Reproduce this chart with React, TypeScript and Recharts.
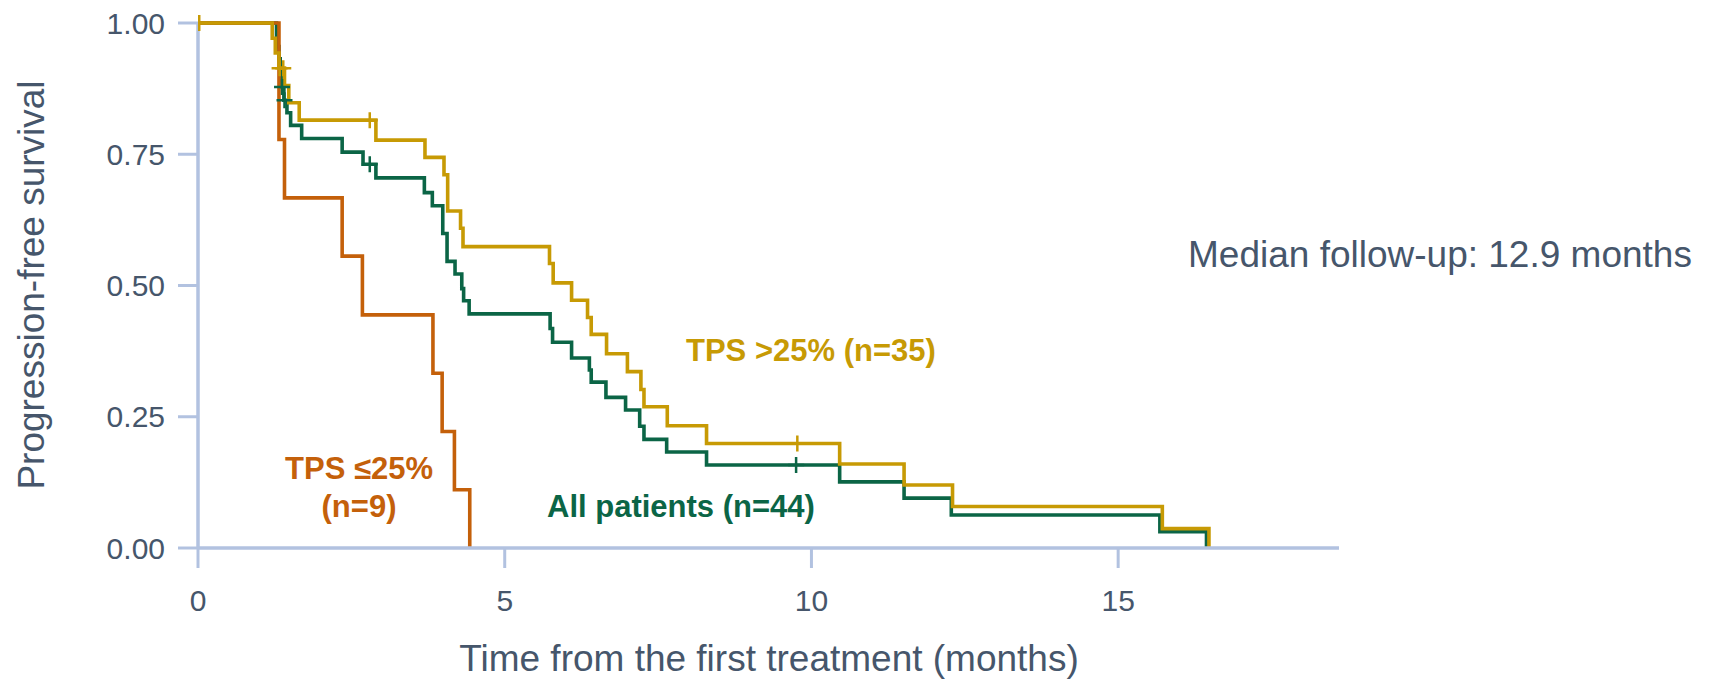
import { ComposedChart, Line, Scatter, XAxis, YAxis } from 'recharts';

// Kaplan-Meier step points: t = months, s = progression-free survival
const allPatients = [
  { t: 0, s: 1 }, { t: 1.28, s: 0.977 }, { t: 1.3, s: 0.955 }, { t: 1.32, s: 0.932 },
  { t: 1.34, s: 0.909 }, { t: 1.36, s: 0.878 }, { t: 1.4, s: 0.853 }, { t: 1.45, s: 0.829 },
  { t: 1.51, s: 0.805 }, { t: 1.69, s: 0.78 }, { t: 2.35, s: 0.754 }, { t: 2.69, s: 0.731 },
  { t: 2.9, s: 0.705 }, { t: 3.69, s: 0.677 }, { t: 3.82, s: 0.652 }, { t: 3.99, s: 0.599 },
  { t: 4.06, s: 0.546 }, { t: 4.19, s: 0.522 }, { t: 4.3, s: 0.494 }, { t: 4.33, s: 0.471 },
  { t: 4.42, s: 0.446 }, { t: 5.74, s: 0.418 }, { t: 5.78, s: 0.392 }, { t: 6.09, s: 0.362 },
  { t: 6.38, s: 0.339 }, { t: 6.41, s: 0.316 }, { t: 6.65, s: 0.287 }, { t: 6.97, s: 0.263 },
  { t: 7.2, s: 0.232 }, { t: 7.27, s: 0.207 }, { t: 7.64, s: 0.183 }, { t: 8.29, s: 0.158 },
  { t: 10.46, s: 0.126 }, { t: 11.51, s: 0.095 }, { t: 12.28, s: 0.063 }, { t: 15.68, s: 0.031 },
  { t: 16.44, s: 0 },
];

const tpsHigh = [
  { t: 0, s: 1 }, { t: 1.21, s: 0.971 }, { t: 1.26, s: 0.943 }, { t: 1.32, s: 0.914 },
  { t: 1.41, s: 0.881 }, { t: 1.48, s: 0.848 }, { t: 1.65, s: 0.815 }, { t: 2.9, s: 0.777 },
  { t: 3.7, s: 0.744 }, { t: 4.01, s: 0.711 }, { t: 4.07, s: 0.642 }, { t: 4.28, s: 0.609 },
  { t: 4.32, s: 0.574 }, { t: 5.73, s: 0.542 }, { t: 5.79, s: 0.505 }, { t: 6.09, s: 0.472 },
  { t: 6.35, s: 0.439 }, { t: 6.41, s: 0.407 }, { t: 6.66, s: 0.37 }, { t: 7.0, s: 0.336 },
  { t: 7.22, s: 0.302 }, { t: 7.27, s: 0.269 }, { t: 7.65, s: 0.233 }, { t: 8.29, s: 0.199 },
  { t: 10.46, s: 0.16 }, { t: 11.51, s: 0.12 }, { t: 12.3, s: 0.079 }, { t: 15.72, s: 0.037 },
  { t: 16.48, s: 0 },
];

const tpsLow = [
  { t: 0, s: 1 }, { t: 1.32, s: 0.778 }, { t: 1.41, s: 0.667 }, { t: 2.35, s: 0.556 },
  { t: 2.68, s: 0.444 }, { t: 3.83, s: 0.333 }, { t: 3.98, s: 0.222 }, { t: 4.18, s: 0.111 },
  { t: 4.43, s: 0 },
];

// censored observations
const allCensored = [
  { t: 1.37, s: 0.878 }, { t: 1.41, s: 0.853 }, { t: 2.8, s: 0.731 }, { t: 9.75, s: 0.158 },
];
const highCensored = [
  { t: 0.02, s: 1 }, { t: 1.33, s: 0.914 }, { t: 1.39, s: 0.914 }, { t: 2.8, s: 0.815 },
  { t: 9.77, s: 0.199 },
];

const xTicks = [0, 5, 10, 15];
const yTicks = [0, 0.25, 0.5, 0.75, 1];

const GREEN = '#0B6546';
const GOLD = '#C79A04';
const ORANGE = '#C4600A';
const AXIS = '#B2C2E0';
const TEXT = '#46566B';
const FONT = "'Liberation Sans', Arial, Helvetica, sans-serif";

const cross = (color: string) => (props: any) => {
  const { cx, cy } = props;
  return (
    <path
      d={`M${cx - 8},${cy}H${cx + 8}M${cx},${cy - 8}V${cy + 8}`}
      stroke={color}
      strokeWidth={2.5}
      fill="none"
    />
  );
};

export default function App() {
  const tickStyle = { fill: TEXT, fontSize: 30, fontFamily: FONT };
  return (
    <div style={{ position: 'absolute', left: 0, top: 0, width: 1714, height: 680, background: '#fff' }}>
      <ComposedChart width={1714} height={680} margin={{ top: 23, right: 375, bottom: 0, left: 0 }}>
        <XAxis
          type="number"
          dataKey="t"
          domain={[0, 18.6]}
          ticks={xTicks}
          allowDataOverflow
          height={132}
          tickSize={20}
          tickMargin={22}
          tick={tickStyle}
          axisLine={{ stroke: AXIS, strokeWidth: 3.5 }}
          tickLine={{ stroke: AXIS, strokeWidth: 3 }}
        />
        <YAxis
          type="number"
          dataKey="s"
          domain={[0, 1]}
          ticks={yTicks}
          width={198}
          tickSize={20}
          tickMargin={13}
          tickFormatter={(v: number) => v.toFixed(2)}
          tick={tickStyle}
          axisLine={{ stroke: AXIS, strokeWidth: 3.5 }}
          tickLine={{ stroke: AXIS, strokeWidth: 3 }}
        />
        <Line data={allPatients} dataKey="s" type="stepAfter" stroke={GREEN} strokeWidth={3.6} dot={false} activeDot={false} isAnimationActive={false} />
        <Line data={tpsLow} dataKey="s" type="stepAfter" stroke={ORANGE} strokeWidth={3.6} dot={false} activeDot={false} isAnimationActive={false} />
        <Line data={tpsHigh} dataKey="s" type="stepAfter" stroke={GOLD} strokeWidth={3.6} dot={false} activeDot={false} isAnimationActive={false} />
        <Scatter data={allCensored} dataKey="s" shape={cross(GREEN)} isAnimationActive={false} />
        <Scatter data={highCensored} dataKey="s" shape={cross(GOLD)} isAnimationActive={false} />

        <text x={44} y={285} transform="rotate(-90 44 285)" textAnchor="middle" fontSize={37} fill={TEXT} fontFamily={FONT}>
          Progression-free survival
        </text>
        <text x={769} y={671} textAnchor="middle" fontSize={37} fill={TEXT} fontFamily={FONT}>
          Time from the first treatment (months)
        </text>
        <text x={1188} y={267} fontSize={37} fill={TEXT} fontFamily={FONT}>
          Median follow-up: 12.9 months
        </text>
        <text x={686} y={361} fontSize={31} fontWeight="bold" fill={GOLD} fontFamily={FONT}>
          TPS &gt;25% (n=35)
        </text>
        <text x={547} y={517} fontSize={31} fontWeight="bold" fill={GREEN} fontFamily={FONT}>
          All patients (n=44)
        </text>
        <text x={359} y={479} textAnchor="middle" fontSize={31} fontWeight="bold" fill={ORANGE} fontFamily={FONT}>
          TPS ≤25%
        </text>
        <text x={359} y={517} textAnchor="middle" fontSize={31} fontWeight="bold" fill={ORANGE} fontFamily={FONT}>
          (n=9)
        </text>
      </ComposedChart>
    </div>
  );
}
